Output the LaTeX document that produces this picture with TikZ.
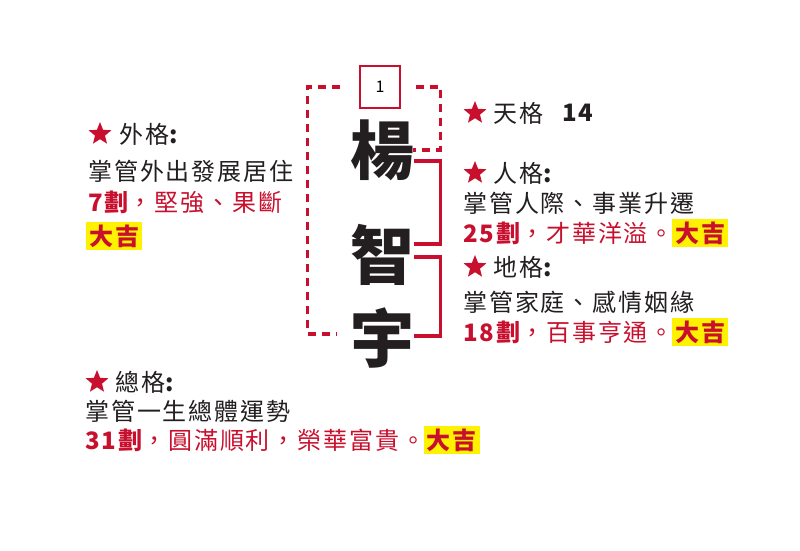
\documentclass[tikz,border=0pt]{standalone}
\usepackage{fontspec}
\setmainfont{Noto Sans CJK TC}[LetterSpace=8]
\newfontfamily\plaincjk{Noto Sans CJK TC}
\usepackage{tikz}
\usetikzlibrary{shapes.geometric}
\usetikzlibrary{positioning}
\usepackage{xcolor}
\definecolor{hongred}{HTML}{C8102E}
\definecolor{inkgray}{HTML}{231F20}
\definecolor{jiyellow}{HTML}{FFF200}

\tikzset{
  hstar/.style={star, star points=5, star point ratio=2.3, fill=hongred, minimum size=24pt, inner sep=0pt},
  txt/.style={anchor=west, inner sep=0pt, text=inkgray, font=\fontsize{24}{24}\selectfont},
  redtxt/.style={txt, text=hongred},
  daji/.style={anchor=west, fill=jiyellow, text=hongred, inner sep=3pt, font=\fontsize{24}{24}\selectfont\bfseries},
  bigchar/.style={inner sep=0pt, text=inkgray, font=\fontsize{64}{64}\plaincjk\bfseries},
  dashbrk/.style={hongred, line width=3.2pt, dash pattern=on 8pt off 6pt},
  solidbrk/.style={hongred, line width=3.2pt}
}

\begin{document}
\begin{tikzpicture}[x=1pt,y=-1pt]
\fill[white] (0,0) rectangle (800,550);
\useasboundingbox (0,0) rectangle (800,550);
% the name
\node[draw=hongred, line width=1.2pt, minimum width=40pt, minimum height=42pt, inner sep=0pt, font=\fontsize{16}{16}\plaincjk] (num) at (380,87) {1};
\node[bigchar] (yang) at (382,150) {楊};
\node[bigchar] (zhi) at (382,255) {智};
\node[bigchar] (yu) at (382,338) {宇};
\draw[dashbrk] ([xshift=-19pt]num.west) -| ([xshift=-42pt,yshift=4pt]yu.west) -- ([xshift=-13pt,yshift=4pt]yu.west);
\draw[dashbrk] ([xshift=15pt]num.east) -| ([xshift=26pt]yang.east) -- ([xshift=-1pt]yang.east);
\draw[solidbrk] ([yshift=-11pt]yang.east) -- ++(26,0) |- ([yshift=11pt]zhi.east);
\draw[solidbrk] ([yshift=-2pt]zhi.east) -- ++(26,0) |- ([yshift=2pt]yu.east);
% wai ge
\node[hstar] (swai) at (100,134) {};
\node[txt] (wai) at (119,134) {外格{\bfseries :}};
\node[txt] (wai2) at (88,171) {掌管外出發展居住};
\node[redtxt] (wai3) at (88,202) {{\bfseries 7劃}，堅強、果斷};
\node[daji] (wai4) at (86,236) {大吉};
% tian ge
\node[hstar] (stian) at (475,113) {};
\node[txt] (tian) at (493,113) {天格};
\node[txt, font=\fontsize{24}{24}\selectfont\bfseries] (tian14) at (562,113) {14};
% ren ge
\node[hstar] (sren) at (475,173) {};
\node[txt] (ren) at (493,173) {人格{\bfseries :}};
\node[txt] (ren2) at (463,203) {掌管人際、事業升遷};
\node[redtxt] (ren3) at (463,233) {{\bfseries 25劃}，才華洋溢。};
\node[daji, right=-2pt of ren3] (ren4) {大吉};
% di ge
\node[hstar] (sdi) at (475,267) {};
\node[txt] (di) at (493,267) {地格{\bfseries :}};
\node[txt] (di2) at (463,302) {掌管家庭、感情姻緣};
\node[redtxt] (di3) at (463,332) {{\bfseries 18劃}，百事亨通。};
\node[daji, right=-2pt of di3] (di4) {大吉};
% zong ge
\node[hstar] (szong) at (97,382) {};
\node[txt] (zong) at (115,382) {總格{\bfseries :}};
\node[txt] (zong2) at (85,411) {掌管一生總體運勢};
\node[redtxt] (zong3) at (85,440) {{\bfseries 31劃}，圓滿順利，榮華富貴。};
\node[daji, right=-2pt of zong3] (zong4) {大吉};
\end{tikzpicture}
\end{document}
